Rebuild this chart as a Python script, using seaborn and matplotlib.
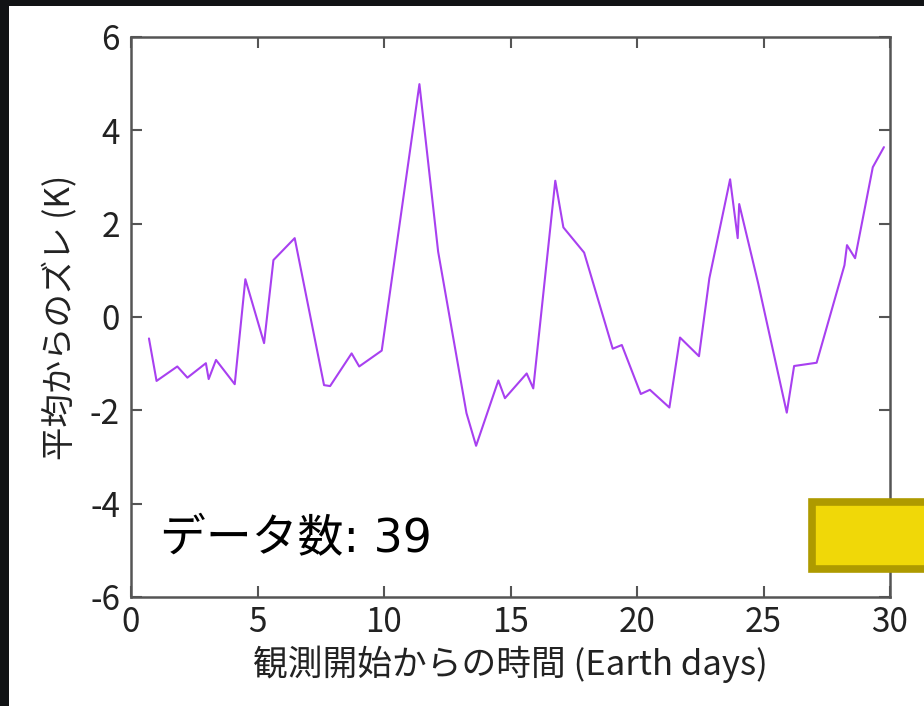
import matplotlib
matplotlib.use("Agg")
import matplotlib.pyplot as plt
from matplotlib.patches import Rectangle
import seaborn as sns
import pandas as pd

# Elapsed time since the start of observation (Earth days)
days = [0.71, 1.01, 1.83, 2.23, 2.96, 3.07, 3.36, 4.10, 4.52, 5.26,
        5.63, 6.47, 7.63, 7.87, 8.72, 9.02, 9.91, 11.40, 12.14, 13.26,
        13.64, 14.52, 14.78, 15.64, 15.90, 16.77, 17.09, 17.91, 19.04, 19.40,
        20.15, 20.51, 21.28, 21.70, 22.45, 22.86, 23.68, 23.98, 24.04, 24.79,
        25.92, 26.21, 27.10, 28.20, 28.30, 28.62, 29.32, 29.76]
# Deviation from the mean (K)
deviation = [-0.46, -1.37, -1.06, -1.30, -0.99, -1.33, -0.92, -1.44, 0.81, -0.56,
             1.22, 1.69, -1.46, -1.48, -0.78, -1.06, -0.72, 4.99, 1.40, -2.06,
             -2.76, -1.36, -1.74, -1.21, -1.53, 2.92, 1.92, 1.38, -0.68, -0.60,
             -1.65, -1.56, -1.94, -0.44, -0.84, 0.83, 2.95, 1.69, 2.42, 0.72,
             -2.05, -1.05, -0.98, 1.11, 1.54, 1.26, 3.21, 3.64]

x_ticks = [0, 5, 10, 15, 20, 25, 30]
y_ticks = [-6, -4, -2, 0, 2, 4, 6]
x_label = "観測開始からの時間 (Earth days)"
y_label = "平均からのズレ (K)"
count_text = "データ数: 39"

sns.set_style("white")
plt.rcParams["font.family"] = ["Noto Sans CJK JP", "DejaVu Sans"]
plt.rcParams["axes.unicode_minus"] = False

df = pd.DataFrame({"day": days, "dev": deviation})

fig = plt.figure(figsize=(9.24, 7.06), dpi=100)
fig.patch.set_facecolor("#111315")
# white slide panel behind everything
fig.patches.append(Rectangle((9 / 924, 0), 1, 1 - 6 / 706, transform=fig.transFigure,
                             facecolor="white", edgecolor="none", zorder=-10))

ax = fig.add_axes([131 / 924, 1 - 597 / 706, 759 / 924, 560 / 706])
ax.set_facecolor("white")
sns.lineplot(data=df, x="day", y="dev", ax=ax, color="#a840f0", linewidth=1.5,
             sort=False, estimator=None)

ax.set_xlim(0, 30)
ax.set_ylim(-6, 6)
ax.set_xticks(x_ticks)
ax.set_yticks(y_ticks)
ax.tick_params(direction="in", length=8, width=1.5, color="#555555",
               labelsize=24, labelcolor="#222222", top=True, right=True,
               bottom=True, left=True)
ax.tick_params(axis="x", pad=6)
ax.tick_params(axis="y", pad=8)
for s in ax.spines.values():
    s.set_color("#555555")
    s.set_linewidth(1.8)

ax.set_xlabel(x_label, fontsize=25, color="#222222", labelpad=4)
ax.set_ylabel(y_label, fontsize=24, color="#222222", labelpad=8)

# sample count note; Latin glyphs from DejaVu, kana/kanji from Noto CJK
fig.text(160 / 924, 1 - 540 / 706, count_text, fontsize=33, color="black",
         va="center", ha="left", family=["DejaVu Sans", "Noto Sans CJK JP"])

# yellow badge at the right edge
fig.patches.append(Rectangle((811.5 / 924, 1 - 569 / 706), 130 / 924, 67 / 706,
                             transform=fig.transFigure, facecolor="#f0d808",
                             edgecolor="#ae9a00", linewidth=5.5, zorder=5))

fig.savefig("out.png", dpi=100, facecolor=fig.get_facecolor())
